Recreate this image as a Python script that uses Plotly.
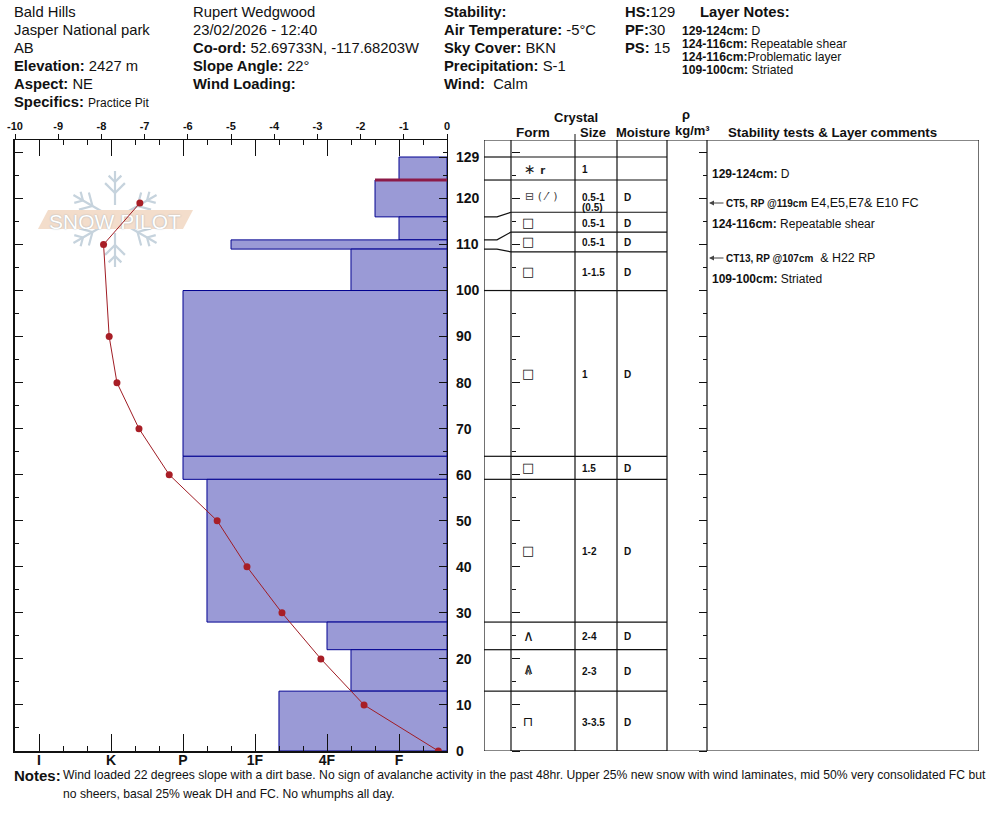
import math
import plotly.graph_objects as go

# ---- data ----
layer_tops = [129, 124, 116, 111, 109, 100, 64, 59, 28, 22, 13]
layer_bottoms = [124, 116, 111, 109, 100, 64, 59, 28, 22, 13, 0]
layer_hardness = [5, 4.667, 5, 2.667, 4.333, 2, 2, 2.333, 4, 4.333, 3.333]
problem_depth = [124, 124]
problem_hardness = [4.667, 5.667]
temp_depth = [119, 110, 90, 80, 70, 60, 50, 40, 30, 20, 10, 0]
temp_values = [-7.11, -7.95, -7.82, -7.64, -7.13, -6.43, -5.32, -4.63, -3.82, -2.92, -1.92, -0.2]
hardness_ticks = [0, 1, 2, 3, 4, 5]
hardness_labels = ["I", "K", "P", "1F", "4F", "F"]
temp_ticks = [-10, -9, -8, -7, -6, -5, -4, -3, -2, -1, 0]
temp_labels = ["-10", "-9", "-8", "-7", "-6", "-5", "-4", "-3", "-2", "-1", "0"]
depth_ticks = [0, 10, 20, 30, 40, 50, 60, 70, 80, 90, 100, 110, 120, 129]
row_edges = [129, 124, 117, 112.7, 108.4, 100, 64, 59, 28, 22, 13, 0]
connect_left = [116, 111, 109]
connect_right = [117, 112.7, 108.4]
forms = ["∗ <b><span style='font-size:10px'>r</span></b>", "⊟ ( ⁄′ )", "□", "□", "□", "□", "□", "□", "∧", "∧|∧", "⊓"]
sizes = ["1", "0.5-1|(0.5)", "0.5-1", "0.5-1", "1-1.5", "1", "1.5", "1-2", "2-4", "2-3", "3-3.5"]
moisture = ["", "D", "D", "D", "D", "D", "D", "D", "D", "D", "D"]

# ---- page geometry (px in the window; the page margin is removed below) ----
W, H = 994, 840
def X(px): return px / W
def Y(py): return 1 - py / H

L, R, T, B = 15, 447, 140, 751
TL, TR = 484, 979
CM_PER_PX = 129 / (751 - 157)
y_top = (B - T) * CM_PER_PX
right_hard = (R - 39) / 72
left_hard = (L - 39) / 72
cols = [511, 575, 617, 667, 707]          # table column edges, px
def C(px): return px - TL                 # table axis unit = px from its left edge

FONT = "Liberation Sans, Arial, sans-serif"
INK = "#111111"
fig = go.Figure()

# hardness bars
mid = [(a + b) / 2 for a, b in zip(layer_tops, layer_bottoms)]
thick = [a - b for a, b in zip(layer_tops, layer_bottoms)]
fig.add_trace(go.Bar(orientation="h", y=mid, width=thick,
                     x=[h - right_hard for h in layer_hardness], base=right_hard,
                     marker=dict(color="#9A9AD6", line=dict(color="#000090", width=1)),
                     xaxis="x", yaxis="y", showlegend=False))
fig.add_trace(go.Scatter(x=problem_hardness, y=problem_depth, mode="lines",
                         line=dict(color="#8C1A48", width=3), xaxis="x", yaxis="y", showlegend=False))
# temperature profile
fig.add_trace(go.Scatter(x=temp_values, y=temp_depth, mode="lines+markers",
                         line=dict(color="#A01C24", width=1),
                         marker=dict(color="#A81E26", size=7),
                         xaxis="x2", yaxis="y", showlegend=False))
# helper traces keeping the overlaid axes alive
fig.add_trace(go.Scatter(x=[0], y=[0], mode="none", xaxis="x3", yaxis="y", showlegend=False))
fig.add_trace(go.Scatter(x=[0], y=[0], mode="none", xaxis="x", yaxis="y2", showlegend=False))

# table lines
tx, ty = [], []
for e in row_edges:
    is_conn = e in connect_right
    tx += [C(cols[0]), C(cols[3]), None]
    ty += [e, e, None]
    if not is_conn and e > 0:
        tx += [0, C(cols[0]), None]
        ty += [e, e, None]
for lft, rgt in zip(connect_left, connect_right):
    tx += [0, C(497), C(cols[0]), None]
    ty += [lft, lft, rgt, None]
for c in [TL] + cols + [TR]:
    tx += [C(c), C(c), None]
    ty += [0, y_top, None]
tx += [0, C(TR), None, 0, C(TR), None]
ty += [y_top, y_top, None, 0, 0, None]
fig.add_trace(go.Scatter(x=tx, y=ty, mode="lines", line=dict(color="#111111", width=1.2),
                         xaxis="x4", yaxis="y", showlegend=False, cliponaxis=False))
fig.add_trace(go.Scatter(x=[0], y=[0], mode="none", xaxis="x4", yaxis="y3", showlegend=False))
fig.add_trace(go.Scatter(x=[0], y=[0], mode="none", xaxis="x4", yaxis="y4", showlegend=False))

ann = []
def txt(px, py, s, size=14.8, anchor="left", color=INK, family=FONT):
    ann.append(dict(x=X(px), y=Y(py), xref="paper", yref="paper", text=s, showarrow=False,
                    xanchor=anchor, yanchor="middle", align=anchor,
                    font=dict(family=family, size=size, color=color),
                    borderpad=0, borderwidth=0))

# header block
for i, s in enumerate(["Bald Hills", "Jasper National park", "AB", "<b>Elevation:</b> 2427 m",
                       "<b>Aspect:</b> NE", "<b>Specifics:</b> <span style='font-size:12px'>Practice Pit</span>"]):
    txt(14, 12 + 18 * i, s)
for i, s in enumerate(["Rupert Wedgwood", "23/02/2026 - 12:40", "<b>Co-ord:</b> 52.69733N, -117.68203W",
                       "<b>Slope Angle:</b> 22°", "<b>Wind Loading:</b>"]):
    txt(193, 12 + 18 * i, s)
for i, s in enumerate(["<b>Stability:</b>", "<b>Air Temperature:</b> -5°C", "<b>Sky Cover:</b> BKN",
                       "<b>Precipitation:</b> S-1", "<b>Wind:</b>  Calm"]):
    txt(444, 12 + 18 * i, s)
for i, s in enumerate(["<b>HS:</b>129", "<b>PF:</b>30", "<b>PS:</b> 15"]):
    txt(625, 12 + 18 * i, s)
txt(700, 12, "<b>Layer Notes:</b>")
for py, s in zip([31, 44, 57, 70], ["<b>129-124cm:</b> D", "<b>124-116cm:</b> Repeatable shear",
                                    "<b>124-116cm:</b>Problematic layer", "<b>109-100cm:</b> Striated"]):
    txt(682, py, s, 12.15)

# column heads
txt(576, 118, "<b>Crystal</b>", 13, "center")
txt(533, 132, "<b>Form</b>", 13.5, "center")
txt(593, 132, "<b>Size</b>", 13, "center")
txt(643, 132, "<b>Moisture</b>", 13, "center")
txt(686, 115, "<b>ρ</b>", 13, "center")
txt(692, 130, "<b>kg/m³</b>", 13, "center")
txt(832, 132, "<b>Stability tests &amp; Layer comments</b>", 13.3, "center")

# table rows
for top, bot, f, s, m in zip(row_edges[:-1], row_edges[1:], forms, sizes, moisture):
    ymid = (top + bot) / 2
    if "r<" in f:
        fnt = dict(family="DejaVu Sans", size=14, color="#222222")
        ann.append(dict(x=C(522), y=ymid, xref="x4", yref="y", text=f, showarrow=False, xanchor="left",
                        yanchor="middle", font=fnt))
    elif "(" in f:
        fnt = dict(family="DejaVu Sans", size=11, color="#444444")
        ann.append(dict(x=C(523), y=ymid, xref="x4", yref="y", text=f, showarrow=False, xanchor="left",
                        yanchor="middle", font=fnt))
    elif "|" in f:
        for glyph, sz, sh in zip(f.split("|"), (15, 9), (1, -2)):
            ann.append(dict(x=C(528), y=ymid, xref="x4", yref="y", yshift=sh, text=glyph, showarrow=False,
                            xanchor="center", yanchor="middle",
                            font=dict(family="DejaVu Sans", size=sz, color="#222222")))
    else:
        sz = 15 if f == "∧" else 13
        fnt = dict(family="DejaVu Sans", size=sz, color="#111111", weight=700 if f == "□" else 400)
        ann.append(dict(x=C(528), y=ymid, xref="x4", yref="y", text=f, showarrow=False, xanchor="center",
                        yanchor="middle", font=fnt))
    parts = s.split("|")
    for j, part in enumerate(parts):
        shift = -1 if len(parts) == 1 else (-1 - 10 * j)
        ann.append(dict(x=C(580), y=ymid, xref="x4", yref="y", yshift=shift, text="<b>%s</b>" % part,
                        showarrow=False, xanchor="left", yanchor="middle",
                        font=dict(family=FONT, size=10, color=INK)))
    if m:
        ann.append(dict(x=C(622), y=ymid, xref="x4", yref="y", yshift=-1, text="<b>%s</b>" % m, showarrow=False,
                        xanchor="left", yanchor="middle", font=dict(family=FONT, size=10, color=INK)))

# comments
txt(712, 174, "<b>129-124cm:</b> D", 12)
txt(726, 203, "<b><span style='font-size:10px'>CT5, RP @119cm</span></b> E4,E5,E7&amp; E10 FC", 12.6)
txt(712, 224, "<b>124-116cm:</b> Repeatable shear", 12)
txt(726, 258, "<b><span style='font-size:10px'>CT13, RP @107cm</span></b>  &amp; H22 RP", 12.4)
txt(712, 279, "<b>109-100cm:</b> Striated", 12)
for py in (203, 258):
    ann.append(dict(x=X(709), y=Y(py), xref="paper", yref="paper", ax=16, ay=0,
                    text="", showarrow=True, arrowhead=2,
                    arrowsize=1, arrowwidth=1, arrowcolor="#444444"))

# notes
txt(14, 775, "<b>Notes:</b>", 15)
txt(63, 775, "Wind loaded 22 degrees slope with a dirt base. No sign of avalanche activity in the past 48hr. "
             "Upper 25% new snow with wind laminates, mid 50% very consolidated FC but", 12.17)
txt(63, 794, "no sheers, basal 25% weak DH and FC. No whumphs all day.", 12.17)

# watermark (behind the traces)
shapes = []
FLK = "#C6D3DD"
cx, cy, rad = 115, 219, 48
def seg(x0, y0, x1, y1, color=FLK, w=2.2):
    shapes.append(dict(type="line", xref="paper", yref="paper", layer="below",
                       x0=X(x0), y0=Y(y0), x1=X(x1), y1=Y(y1), line=dict(color=color, width=w)))
for k in range(6):
    a = math.radians(90 + 60 * k)
    dx, dy = math.cos(a), -math.sin(a)
    seg(cx + dx * 14, cy + dy * 14, cx + dx * rad, cy + dy * rad)
    for r0, tw in ((26, 14), (37, 9)):
        for sgn in (-1, 1):
            b = a + sgn * math.radians(45)
            seg(cx + dx * r0, cy + dy * r0, cx + dx * r0 + math.cos(b) * tw, cy + dy * r0 - math.sin(b) * tw)
shapes.append(dict(type="path", xref="paper", yref="paper", layer="below",
                   path="M %f %f L %f %f L %f %f L %f %f Z" % (X(38), Y(229), X(48), Y(210), X(193), Y(210), X(183), Y(229)),
                   fillcolor="#F3DDCB", line=dict(width=0)))
shapes.append(dict(type="rect", xref="paper", yref="paper", layer="below",
                   x0=X(48), x1=X(182), y0=Y(229), y1=Y(210), line=dict(width=0), fillcolor="rgba(0,0,0,0)",
                   label=dict(text="SNOW PILOT", textposition="middle center",
                              font=dict(family=FONT, size=21, color="#FFFFFF", shadow="0 0 1.5px #93A3B0"))))
# small tick over the Size column
shapes.append(dict(type="line", xref="paper", yref="paper", x0=X(575), x1=X(575), y0=Y(134), y1=Y(140),
                   line=dict(color=INK, width=1)))

tickfont = dict(family=FONT, size=11, color=INK, weight=700)
bigfont = dict(family=FONT, size=14, color=INK, weight=700)
xdom = [X(L), X(R)]
ydom = [Y(B), Y(T)]
minor_h = dict(dtick=1/3, tick0=0, ticks="inside", ticklen=5, tickcolor=INK, tickwidth=1)

fig.update_layout(
    template="none",
    width=W, height=H, margin=dict(l=0, r=0, t=0, b=0, pad=0), autosize=False,
    paper_bgcolor="white", plot_bgcolor="white", barmode="overlay", showlegend=False,
    annotations=ann, shapes=shapes, hovermode=False,
    xaxis=dict(domain=xdom, range=[left_hard, right_hard], anchor="y", side="bottom", automargin=False,
               tickmode="array", tickvals=hardness_ticks, ticktext=hardness_labels,
               ticks="inside", ticklen=17, tickcolor=INK, tickwidth=1, minor=minor_h,
               showline=True, linecolor=INK, linewidth=1.6, showgrid=False, zeroline=False,
               tickfont=bigfont, layer="above traces", ticklabelstandoff=-5),
    xaxis2=dict(domain=xdom, range=[-10, 0], anchor="y", side="top", overlaying="x", automargin=False,
                tickmode="array", tickvals=temp_ticks, ticktext=temp_labels, ticks="outside", ticklen=5,
                tickcolor=INK, tickwidth=1, showline=True, linecolor=INK, linewidth=1.2, showgrid=False,
                zeroline=False, tickfont=tickfont, ticklabeloverflow="allow"),
    xaxis3=dict(domain=xdom, range=[left_hard, right_hard], anchor="y", side="top", overlaying="x",
                automargin=False,
                tickmode="array", tickvals=hardness_ticks, ticks="inside", ticklen=16, tickcolor=INK,
                tickwidth=1, minor=minor_h, showticklabels=False, showgrid=False, zeroline=False),
    xaxis4=dict(domain=[X(TL), X(TR)], range=[0, TR - TL], anchor="y", visible=False, automargin=False),
    yaxis=dict(domain=ydom, range=[0, y_top], anchor="x", side="left", dtick=10, tick0=0, automargin=False,
               ticks="inside", ticklen=8, tickcolor=INK, tickwidth=1, showticklabels=False,
               minor=dict(dtick=5, tick0=0, ticks="inside", ticklen=4, tickcolor=INK, tickwidth=1),
               showline=True, linecolor=INK, linewidth=1.6, showgrid=False, zeroline=False),
    yaxis2=dict(domain=ydom, range=[0, y_top], anchor="x", side="right", overlaying="y", automargin=False,
                tickmode="array", tickvals=depth_ticks, ticks="inside", ticklen=8, tickcolor=INK, tickwidth=1,
                minor=dict(dtick=5, tick0=0, ticks="inside", ticklen=4, tickcolor=INK, tickwidth=1),
                showline=True, linecolor=INK, linewidth=1.2, showgrid=False, zeroline=False,
                tickfont=bigfont, ticklabelstandoff=5),
    yaxis3=dict(domain=ydom, range=[0, y_top], anchor="free", position=X(cols[0]), side="right", overlaying="y",
                dtick=10, tick0=0, ticks="outside", ticklen=8, tickcolor=INK, tickwidth=1, showticklabels=False,
                minor=dict(dtick=5, tick0=0, ticks="outside", ticklen=4, tickcolor=INK, tickwidth=1),
                showline=False, showgrid=False, zeroline=False, automargin=False),
    yaxis4=dict(domain=ydom, range=[0, y_top], anchor="free", position=X(cols[4]), side="left", overlaying="y",
                dtick=10, tick0=0, ticks="outside", ticklen=8, tickcolor=INK, tickwidth=1, showticklabels=False,
                minor=dict(dtick=5, tick0=0, ticks="outside", ticklen=4, tickcolor=INK, tickwidth=1),
                showline=False, showgrid=False, zeroline=False, automargin=False),
)
fig.write_html("out.html", config=dict(displayModeBar=False),
               post_script="document.body.style.margin='0';document.documentElement.style.overflow='hidden';")
